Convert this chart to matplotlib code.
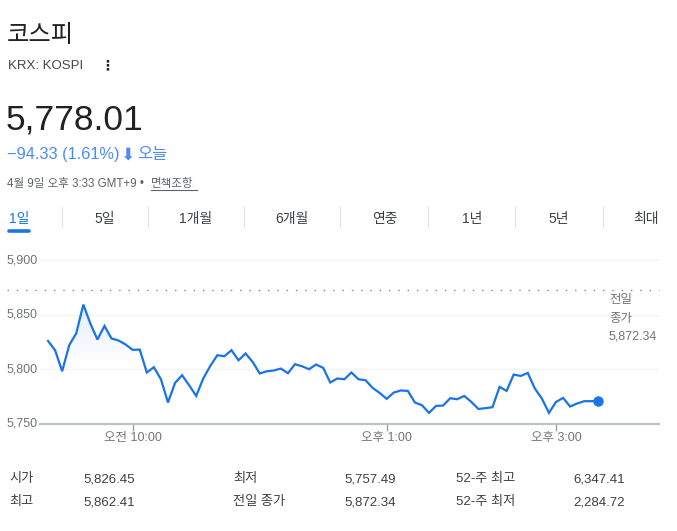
import numpy as np
import matplotlib
matplotlib.use('Agg')
import matplotlib.pyplot as plt
from matplotlib.lines import Line2D

# 5-minute closes, 09:00 .. 15:30
prices = [
    5826.1, 5817.6, 5798.3, 5822.2, 5833.1, 5859.4, 5842.0, 5827.4, 5839.8, 5828.3,
    5826.5, 5822.8, 5817.9, 5818.2, 5797.2, 5802.0, 5791.0, 5769.7, 5787.6, 5794.7,
    5785.5, 5775.7, 5791.7, 5803.2, 5813.0, 5812.1, 5817.6, 5808.4, 5814.6, 5806.9,
    5796.3, 5798.3, 5799.0, 5800.8, 5796.5, 5804.8, 5802.9, 5800.2, 5804.5, 5801.4,
    5788.0, 5791.7, 5791.0, 5797.2, 5791.0, 5790.1, 5783.1, 5778.5, 5773.0, 5778.8,
    5780.7, 5780.3, 5769.7, 5767.2, 5760.2, 5766.6, 5766.9, 5773.6, 5772.7, 5775.7,
    5770.2, 5763.8, 5764.5, 5765.4, 5784.0, 5780.3, 5795.3, 5794.0, 5796.8, 5782.5,
    5773.3, 5760.2, 5770.2, 5773.9, 5766.0, 5768.8, 5770.9, 5770.9, 5771.1,
]
step_min = 5
prev_close = 5872.34
yticks = [5750, 5800, 5850, 5900]
ytick_labels = ['5,750', '5,800', '5,850', '5,900']
xticks = [60, 240, 360]  # minutes after 09:00
xtick_labels = ['오전 10:00', '오후 1:00', '오후 3:00']

tabs = ['1일', '5일', '1개월', '6개월', '연중', '1년', '5년', '최대']
stat_labels = [['시가', '최고'], ['최저', '전일 종가'], ['52-주 최고', '52-주 최저']]
stat_values = [['5,826.45', '5,862.41'], ['5,757.49', '5,872.34'], ['6,347.41', '2,284.72']]

W, H = 677, 531
FONT = ['Liberation Sans', 'Noto Sans CJK KR', 'DejaVu Sans']
plt.rcParams['font.family'] = FONT

BLUE = '#1a73e8'
DARK = '#202124'
GREY = '#70757a'

fig = plt.figure(figsize=(W / 100, H / 100), dpi=100)


def txt(x, y, s, **kw):
    kw.setdefault('va', 'baseline')
    return fig.text(x / W, 1 - y / H, s, **kw)


# header
txt(7, 42, '코스피', fontsize=17.5, color=DARK, family=['Noto Sans CJK KR'], weight='medium')
txt(8, 69, 'KRX: KOSPI', fontsize=9.5, color='#474747')
txt(100, 69, '⋮', fontsize=10, color=DARK, weight='bold', family=['DejaVu Sans'])
txt(6, 130, '5,778.01', fontsize=25.5, color=DARK)
txt(7, 159, '−94.33 (1.61%)', fontsize=11.8, color='#4c8bf5')
txt(120, 159.5, '⬇', fontsize=12.5, color='#4c8bf5', family=['DejaVu Sans'])
txt(137, 159, '오늘', fontsize=11.8, color='#4c8bf5', family=['Noto Sans CJK KR'])
txt(7, 187.5, '4월 9일 오후 3:33 GMT+9 •', fontsize=8.3, color='#5f6368')
txt(151, 187.5, '면책조항', fontsize=8.3, color='#5f6368')
fig.add_artist(Line2D([151 / W, 197 / W], [1 - 190 / H] * 2, color='#5f6368', lw=0.8))

# tabs
tab_x = [19, 105, 196, 292, 385, 472, 559, 646]
for x, s in zip(tab_x, tabs):
    txt(x, 223, s, fontsize=10, ha='center', color=BLUE if s == '1일' else '#3c4043')
for x in [62.3, 148.3, 244.3, 340.3, 428.3, 515.3, 602.7]:
    fig.add_artist(Line2D([x / W] * 2, [1 - 207 / H, 1 - 227 / H], color='#e3e3e3', lw=0.8))
fig.add_artist(Line2D([9 / W, 29 / W], [1 - 230.5 / H] * 2, color=BLUE, lw=2.6,
                      solid_capstyle='round'))

# chart
ax = fig.add_axes([40 / W, 1 - 424 / H, 619 / W, 169.2 / H])
x = np.arange(len(prices)) * step_min
y = np.array(prices)
ax.set_xlim(-5.7, 433)
ax.set_ylim(5750, 5905)

# gradient fill under the line
grad = np.zeros((256, 1, 4))
grad[..., 0], grad[..., 1], grad[..., 2] = 0.1, 0.45, 0.91
grad[:, 0, 3] = np.clip(np.linspace(0.13, -0.05, 256), 0, None)
im = ax.imshow(grad, aspect='auto', extent=[x[0], x[-1], 5785, y.max()],
               origin='upper', zorder=1)
poly = ax.fill_between(x, y, 5750, color='none', lw=0)
im.set_clip_path(poly.get_paths()[0], transform=ax.transData)

ax.plot(x, y, color=BLUE, lw=1.6, zorder=3, solid_joinstyle='miter')
ax.plot(x[-1], y[-1], 'o', color=BLUE, ms=6.5, zorder=4)

for v in yticks[1:]:
    ax.axhline(v, color='#f3f4f5', lw=0.9, zorder=0)
ax.axhline(prev_close, xmin=-33 / 619, xmax=1, clip_on=False, color='#80868b',
           lw=1, ls=(0, (1, 5.7)), zorder=2)

for s in ['top', 'right', 'left']:
    ax.spines[s].set_visible(False)
ax.spines['bottom'].set_color('#bdc1c6')
ax.spines['bottom'].set_linewidth(1.6)
ax.set_yticks([])
ax.set_xticks(xticks)
ax.set_xticklabels(xtick_labels, fontsize=9, color=GREY)
ax.tick_params(axis='x', length=5, width=1, color='#9aa0a6', pad=1)

ytrans = ax.get_yaxis_transform()
for v, lab in zip(yticks, ytick_labels):
    ax.text(-33 / 619, v, lab, fontsize=9, color=GREY, va='center', ha='left',
            transform=ytrans, clip_on=False)
for yy, s in [(303, '전일'), (322, '종가'), (339.5, '5,872.34')]:
    txt(609, yy, s, fontsize=9, color=GREY)

# stats table
col_lab = [9, 233, 456]
col_val = [83, 344, 573]
for i in range(3):
    for j in range(2):
        yy = 482 + j * 23.5
        txt(col_lab[i], yy, stat_labels[i][j], fontsize=9.5, color='#3c4043')
        txt(col_val[i], yy, stat_values[i][j], fontsize=9.5, color='#3c4043')

fig.savefig('out.png', dpi=100)
